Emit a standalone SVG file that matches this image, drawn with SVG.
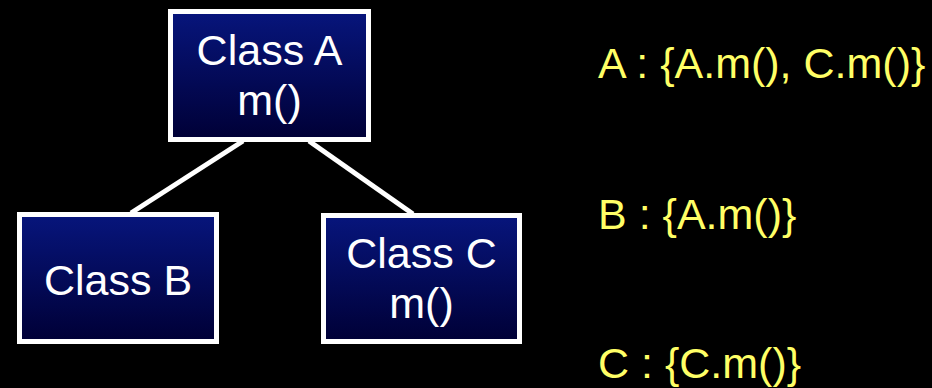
<svg xmlns="http://www.w3.org/2000/svg" width="932" height="388" viewBox="0 0 932 388">
  <defs>
    <linearGradient id="navy" x1="0" y1="0" x2="0" y2="1">
      <stop offset="0" stop-color="#07157c"/>
      <stop offset="1" stop-color="#000036"/>
    </linearGradient>
  </defs>
  <style>
    .box { fill: url(#navy); stroke: #ffffff; stroke-width: 5; }
    .lbl { font-family: "Liberation Sans", Arial, sans-serif; font-size: 43px; fill: #ffffff; text-anchor: middle; }
    .set { font-family: "Liberation Sans", Arial, sans-serif; font-size: 43px; fill: #ffff66; }
    .edge { stroke: #ffffff; stroke-width: 5; fill: none; }
  </style>
  <rect x="0" y="0" width="932" height="388" fill="#000000"/>
  <g id="connectors">
    <line class="edge" x1="243" y1="141" x2="131" y2="213"/>
    <line class="edge" x1="309" y1="141" x2="413" y2="214"/>
  </g>
  <g id="classA">
    <rect class="box" x="170.5" y="11.5" width="198" height="128"/>
    <text class="lbl" x="269.5" y="65">Class A</text>
    <text class="lbl" x="269.5" y="115">m()</text>
  </g>
  <g id="classB">
    <rect class="box" x="19.5" y="214.5" width="197" height="127"/>
    <text class="lbl" x="118" y="295">Class B</text>
  </g>
  <g id="classC">
    <rect class="box" x="323.5" y="215.5" width="196" height="126"/>
    <text class="lbl" x="421.5" y="268">Class C</text>
    <text class="lbl" x="421.5" y="318">m()</text>
  </g>
  <g id="sets">
    <text class="set" x="598" y="78">A : {A.m(), C.m()}</text>
    <text class="set" x="598" y="229">B : {A.m()}</text>
    <text class="set" x="598" y="378">C : {C.m()}</text>
  </g>
</svg>
